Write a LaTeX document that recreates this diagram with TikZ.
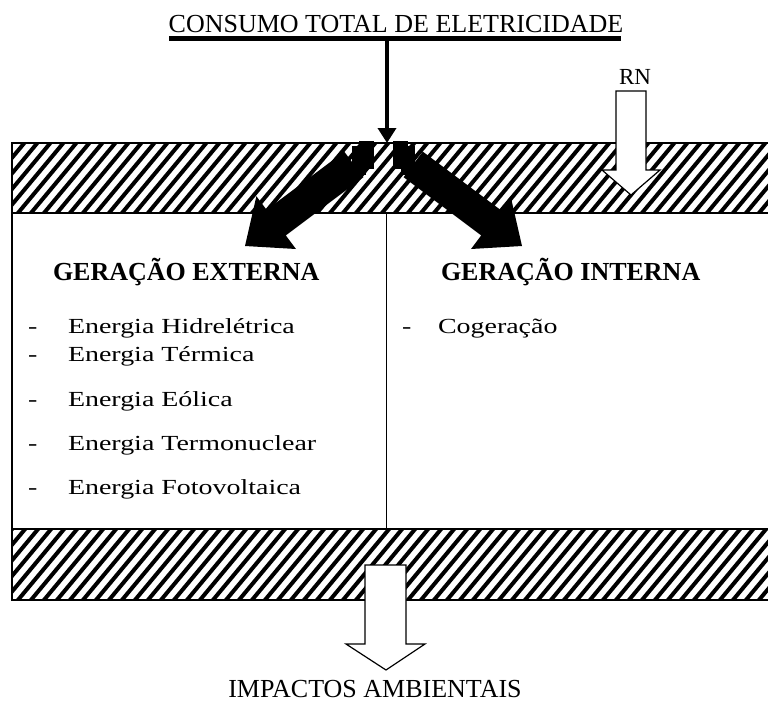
\documentclass[tikz,border=0pt]{standalone}
\usepackage{fontspec}
\setmainfont{Liberation Serif}
\usetikzlibrary{arrows.meta}
\newcommand\hatchband[2]{%
  \begin{scope}
    \clip (12,#1) rectangle (790,#2);
    \foreach \k in {-8,...,66} {
      \draw[hatchline] ({\k*13},{#2+6}) -- ({\k*13+(#2-#1+12)/1.2},{#1-6});
    }
  \end{scope}}
\begin{document}
\begin{tikzpicture}[x=1pt,y=-1pt,
  txt/.style={inner sep=0pt,outer sep=0pt},
  big/.style={txt,font=\fontsize{26}{30}\selectfont},
  head/.style={txt,font=\fontsize{26}{30}\selectfont\bfseries},
  item/.style={txt,font=\fontsize{21.5}{25}\selectfont},
  hatchline/.style={line width=4pt,black},
  border/.style={line width=1.5pt,black},
  openarrow/.style={draw=black,line width=1.2pt,fill=white,line join=miter},
  blockarrow/.style={fill=black,draw=none}]
\useasboundingbox (0,0) rectangle (768,702);

% hatched bands
\hatchband{143}{213}
\hatchband{529}{600}

% box outlines
\draw[border] (12,143) rectangle (800,213);
\draw[border] (12,529) rectangle (800,600);
\draw[border] (12,213) -- (12,529);
\draw[line width=1pt] (386,213) -- (386,529);

% title and bar
\node[big,anchor=base] (title) at (396,32) {CONSUMO TOTAL DE ELETRICIDADE};
\coordinate (barL) at (169,38.5);
\coordinate (barR) at (621,38.5);
\draw[line width=5pt] (barL) -- (barR);
\coordinate (barmid) at (387,41);
\coordinate (bandtop) at (387,143);
\draw[line width=3.5pt,-{Triangle[length=15pt,width=18pt]}] (barmid) -- (bandtop);

% RN arrow
\node[txt,font=\fontsize{23}{26}\selectfont,anchor=base] (rn) at (635,84) {RN};
\path[openarrow] (616,91) -- (646,91) -- (646,170) -- (660,170) -- (631,195)
  -- (602,170) -- (616,170) -- cycle;

% left striped block arrow
\begin{scope}[shift={(245,246)},x={(0.8pt,0.6pt)},y={(-0.6pt,0.8pt)}]
  \path[blockarrow] (0,0) -- (39,33) -- (39,16) -- (136,16) -- (136,-16)
    -- (39,-16) -- (39,-33) -- cycle;
  \path[blockarrow] (139.5,-16) rectangle (145.5,16);
  \path[blockarrow] (149,-16) rectangle (154,16);
\end{scope}
% right striped block arrow
\begin{scope}[shift={(522,246)},x={(-0.8pt,0.6pt)},y={(0.6pt,0.8pt)}]
  \path[blockarrow] (0,0) -- (39,33) -- (39,16) -- (136,16) -- (136,-16)
    -- (39,-16) -- (39,-33) -- cycle;
  \path[blockarrow] (139.5,-16) rectangle (145.5,16);
  \path[blockarrow] (149,-16) rectangle (154,16);
\end{scope}

% headings
\node[head,anchor=base west] (ext) at (53,280) {GERAÇÃO EXTERNA};
\node[head,anchor=base west] (int) at (441,280) {GERAÇÃO INTERNA};

% list items
\foreach \yy/\tx [count=\i] in {333/Energia Hidrelétrica, 361/Energia Térmica,
    406/Energia Eólica, 450/Energia Termonuclear, 494/Energia Fotovoltaica} {
  \node[item,anchor=base west] (d\i) at (28,\yy) {\scalebox{1.3}[1]{-}};
  \node[item,anchor=base west] (e\i) at (68,\yy) {\scalebox{1.3}[1]{\tx}};
}
\node[item,anchor=base west] (dc) at (402,333) {\scalebox{1.3}[1]{-}};
\node[item,anchor=base west] (cog) at (438,333) {\scalebox{1.3}[1]{Cogeração}};

% bottom arrow
\path[openarrow] (365,565) -- (406,565) -- (406,644) -- (425,644) -- (386,670)
  -- (346,644) -- (365,644) -- cycle;
\node[big,anchor=base] (imp) at (375,697) {IMPACTOS AMBIENTAIS};
\end{tikzpicture}
\end{document}
